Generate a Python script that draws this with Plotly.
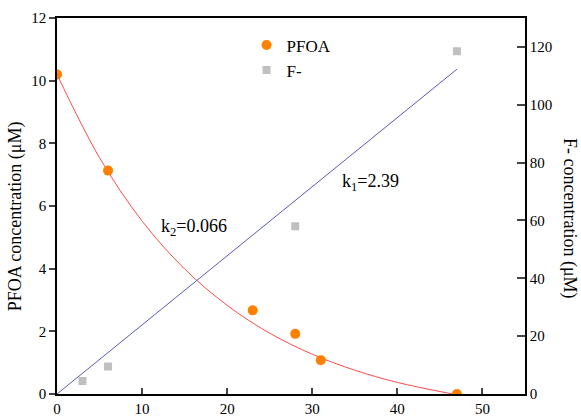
import plotly.graph_objects as go

# Data
pfoa_t = [0, 6, 23, 28, 31, 47]
pfoa_c = [10.2, 7.13, 2.67, 1.92, 1.08, 0.0]

f_t = [3, 6, 28, 47]
f_c = [4.5, 9.5, 58, 118.5]

# fitted curves
fit_pfoa_t = [0, 5, 10, 15, 20, 25, 30, 35, 40, 46.5]
fit_pfoa_c = [10.2, 7.54, 5.52, 3.99, 2.83, 1.94, 1.27, 0.76, 0.37, 0.0]

fit_f_t = [0, 47]
fit_f_c = [0, 112.3]

font_family = "Liberation Serif, Times New Roman, serif"

fig = go.Figure()

fig.add_trace(go.Scatter(x=fit_pfoa_t, y=fit_pfoa_c, mode="lines", line=dict(color="#ff4a4a", width=1, shape="spline"),
                         showlegend=False, hoverinfo="skip"))
fig.add_trace(go.Scatter(x=fit_f_t, y=fit_f_c, mode="lines", line=dict(color="#5a5ab4", width=1),
                         yaxis="y2", showlegend=False, hoverinfo="skip"))
fig.add_trace(go.Scatter(x=pfoa_t, y=pfoa_c, mode="markers", name="PFOA",
                         marker=dict(color="#ff8000", size=10, symbol="circle")))
fig.add_trace(go.Scatter(x=f_t, y=f_c, mode="markers", name="F-", yaxis="y2",
                         marker=dict(color="#c0c0c0", size=8, symbol="square")))

fig.add_annotation(x=33.2, y=73, xref="x", yref="y2", text="k<sub>1</sub>=2.39", showarrow=False,
                   xanchor="left", yanchor="middle", font=dict(size=18, family=font_family, color="black"))
fig.add_annotation(x=12.0, y=5.3, xref="x", yref="y", text="k<sub>2</sub>=0.066", showarrow=False,
                   xanchor="left", yanchor="middle", font=dict(size=18, family=font_family, color="black"))

# axis titles (paper coords are relative to the plot area)
fig.add_annotation(x=-0.0897, y=0.473, xref="paper", yref="paper", text="PFOA concentration (μM)",
                   textangle=-90, showarrow=False, xanchor="center", yanchor="middle",
                   font=dict(size=18, family=font_family, color="black"))
fig.add_annotation(x=1.0962, y=0.468, xref="paper", yref="paper", text="F- concentration (μM)",
                   textangle=90, showarrow=False, xanchor="center", yanchor="middle",
                   font=dict(size=18, family=font_family, color="black"))

fig.update_layout(
    width=581, height=416,
    margin=dict(l=57, r=56, t=18, b=22),
    paper_bgcolor="white", plot_bgcolor="white",
    font=dict(family=font_family, size=15, color="black"),
    legend=dict(x=0.405, y=0.975, xanchor="left", yanchor="top", bgcolor="rgba(0,0,0,0)",
                font=dict(size=17), borderwidth=0),
    xaxis=dict(range=[0, 55], tickvals=[0, 10, 20, 30, 40, 50], ticks="inside", ticklen=6, tickwidth=1.5,
               showline=True, linecolor="black", linewidth=1.5, mirror=True, showgrid=False, zeroline=False,
               tickfont=dict(size=15), automargin=False),
    yaxis=dict(range=[0, 12], tickvals=[0, 2, 4, 6, 8, 10, 12], ticks="outside", ticklen=6, tickwidth=1.5,
               showline=True, linecolor="black", linewidth=1.5, showgrid=False, zeroline=False,
               tickfont=dict(size=15), automargin=False),
    yaxis2=dict(range=[0, 130], tickvals=[0, 20, 40, 60, 80, 100, 120], overlaying="y", side="right",
                ticks="inside", ticklen=8, tickwidth=1.5, showline=True, linecolor="black", linewidth=1.5,
                showgrid=False, zeroline=False,
                tickfont=dict(size=15), automargin=False),
)

fig.write_html("out.html")
